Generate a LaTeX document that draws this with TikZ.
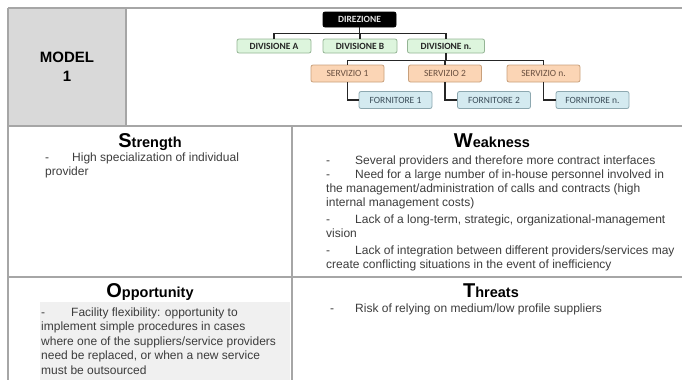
\documentclass[tikz,border=0pt]{standalone}
\usepackage{fontspec}
\setmainfont{Liberation Sans}
\newfontfamily\calibri{Carlito}
\definecolor{gridgray}{HTML}{A6A6A6}
\definecolor{cellgray}{HTML}{D9D9D9}
\definecolor{divfill}{HTML}{DDF5DD}
\definecolor{divdraw}{HTML}{94B494}
\definecolor{servfill}{HTML}{FBD5B5}
\definecolor{servdraw}{HTML}{C8A07C}
\definecolor{fornfill}{HTML}{D4EAF0}
\definecolor{forndraw}{HTML}{8DA8B0}
\definecolor{oppfill}{HTML}{F0F0F0}
\definecolor{bodytext}{HTML}{3C3C3C}
\definecolor{servtext}{HTML}{6A5040}
\definecolor{forntext}{HTML}{3A4C58}
\tikzset{
  orgbox/.style={rounded corners=2pt, line width=0.8pt, inner sep=0pt,
    minimum width=74pt, minimum height=15pt, font=\calibri\fontsize{9.5}{11}\selectfont},
  dirbox/.style={orgbox, fill=black, draw=black, text=white!90!black, font=\calibri\bfseries\fontsize{9.5}{11}\selectfont, minimum width=73pt},
  divbox/.style={orgbox, fill=divfill, draw=divdraw, text=black!85, font=\calibri\bfseries\fontsize{9.5}{11}\selectfont, minimum height=14pt},
  servbox/.style={orgbox, fill=servfill, draw=servdraw, text=servtext, minimum width=73pt, minimum height=17pt},
  fornbox/.style={orgbox, fill=fornfill, draw=forndraw, text=forntext, minimum width=73pt, minimum height=17pt},
  conn/.style={draw=black!85, line width=1.3pt},
  grid/.style={draw=gridgray, line width=1.5pt},
  body/.style={anchor=base west, inner sep=0pt, text=bodytext, font=\fontsize{12}{14}\selectfont},
  title/.style={anchor=base, inner sep=0pt, text=black, font=\bfseries},
}
\newcommand{\swottitle}[2]{{\fontsize{20}{20}\selectfont #1}{\fontsize{14.5}{15}\selectfont #2}}
\begin{document}
\begin{tikzpicture}[x=1pt, y=-1pt]
\useasboundingbox (0,0) rectangle (682,380);
% table
\fill[cellgray] (8,8) rectangle (126,126);
\fill[oppfill] (40,302) rectangle (290,380);
\draw[grid] (8,8) -- (682,8);
\draw[grid] (8,8) -- (8,380);
\draw[grid] (126,8) -- (126,126);
\draw[grid] (8,126) -- (682,126);
\draw[grid] (292,126) -- (292,380);
\draw[grid] (8,277) -- (682,277);
% model label
\node[align=center, font=\bfseries\fontsize{15}{19}\selectfont, inner sep=0pt] (model) at (67,67) {MODEL\\1};
% org chart
\node[dirbox] (dir) at (359.5,19.5) {DIREZIONE};
\node[divbox] (divA) at (274,46) {DIVISIONE A};
\node[divbox] (divB) at (360,46) {DIVISIONE B};
\node[divbox, minimum width=77pt] (divN) at (446,46) {DIVISIONE n.};
\node[servbox] (serv1) at (347.5,73.5) {SERVIZIO 1};
\node[servbox] (serv2) at (445,73.5) {SERVIZIO 2};
\node[servbox] (servN) at (543.5,73.5) {SERVIZIO n.};
\node[fornbox] (forn1) at (395.5,100) {FORNITORE 1};
\node[fornbox] (forn2) at (494,100) {FORNITORE 2};
\node[fornbox] (fornN) at (592.5,100) {FORNITORE n.};
\foreach \d in {divA,divB,divN} \draw[conn] (dir.south) -- ++(0,6) -| (\d.north);
\foreach \s in {serv1,serv2,servN} \draw[conn] (divN.south) -- ++(0,7) -| (\s.north);
\draw[conn] (serv1.south) |- (forn1.west);
\draw[conn] (serv2.south) |- (forn2.west);
\draw[conn] (servN.south) |- (fornN.west);
% titles
\node[title] (tS) at (150,147) {\swottitle{S}{trength}};
\node[title] (tW) at (492,147) {\swottitle{W}{eakness}};
\node[title] (tO) at (150,297) {\swottitle{O}{pportunity}};
\node[title] (tT) at (491,297) {\swottitle{T}{hreats}};
% strength
\node[body] (s1) at (45,161.5) {\makebox[27pt][l]{-}High specialization of individual};
\node[body] (s2) at (45,175.5) {provider};
% weakness
\node[body] (w1) at (326,164) {\makebox[29pt][l]{-}Several providers and therefore more contract interfaces};
\node[body] (w2) at (326,178.5) {\makebox[29pt][l]{-}Need for a large number of in-house personnel involved in};
\node[body] (w3) at (326,192.5) {the management/administration of calls and contracts (high};
\node[body] (w4) at (326,206.5) {internal management costs)};
\node[body] (w5) at (326,223) {\makebox[29pt][l]{-}Lack of a long-term, strategic, organizational-management};
\node[body] (w6) at (326,237) {vision};
\node[body] (w7) at (326,254) {\makebox[29pt][l]{-}Lack of integration between different providers/services may};
\node[body] (w8) at (326,268) {create conflicting situations in the event of inefficiency};
% opportunity
\node[body] (o1) at (41,316) {\makebox[30pt][l]{-}Facility flexibility: opportunity to};
\node[body] (o2) at (41,330.5) {implement simple procedures in cases};
\node[body] (o3) at (41,345) {where one of the suppliers/service providers};
\node[body] (o4) at (41,359.5) {need be replaced, or when a new service};
\node[body] (o5) at (41,374) {must be outsourced};
% threats
\node[body] (t1) at (330,312) {\makebox[25pt][l]{-}Risk of relying on medium/low profile suppliers};
\end{tikzpicture}
\end{document}
